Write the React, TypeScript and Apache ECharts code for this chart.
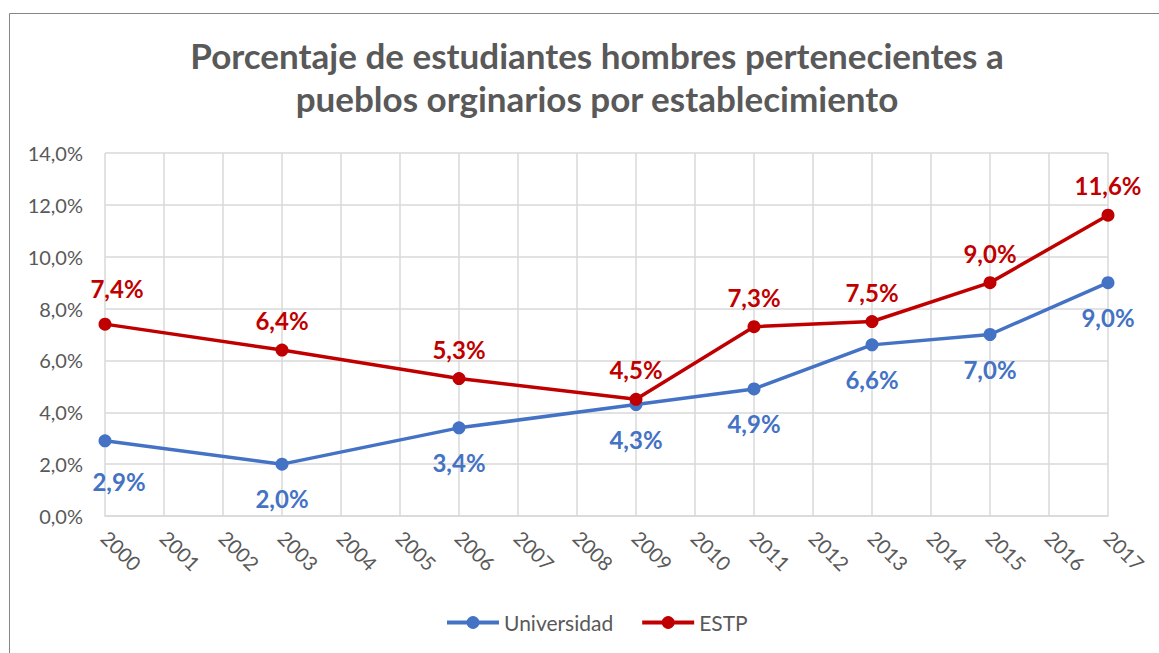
import React, { useEffect, useRef } from "react";
import * as echarts from "echarts";

const years = ["2000","2001","2002","2003","2004","2005","2006","2007","2008","2009","2010","2011","2012","2013","2014","2015","2016","2017"];
const universidad: (number | null)[] = [2.9,null,null,2.0,null,null,3.4,null,null,4.3,null,4.9,null,6.6,null,7.0,null,9.0];
const estp: (number | null)[] = [7.4,null,null,6.4,null,null,5.3,null,null,4.5,null,7.3,null,7.5,null,9.0,null,11.6];
const yTicks = { min: 0, max: 14, interval: 2 };
const title = "Porcentaje de estudiantes hombres pertenecientes a\npueblos orginarios por establecimiento";

const FONT = "Lato, 'Open Sans', sans-serif";
const fmt = (v: number) => v.toFixed(1).replace(".", ",") + "%";

export default function App() {
  const ref = useRef<HTMLDivElement>(null);
  useEffect(() => {
    if (!ref.current) return;
    const chart = echarts.init(ref.current, undefined, { renderer: "svg" });
    const mk = (arr: (number | null)[], firstOffset: [number, number]) =>
      arr.map((v, i) => (i === 0 && v != null ? { value: v, label: { offset: firstOffset } } : v));
    chart.setOption({
      animation: false,
      backgroundColor: "#ffffff",
      textStyle: { fontFamily: FONT },
      title: {
        text: title,
        left: 592,
        textAlign: "center",
        top: 28,
        textStyle: { fontFamily: FONT, fontSize: 35, fontWeight: "bold", color: "#595959", lineHeight: 43 },
      },
      graphic: [
        {
          type: "rect",
          shape: { x: 9.5, y: 13.5, width: 1170, height: 700 },
          style: { fill: "none", stroke: "#868686", lineWidth: 1 },
          silent: true,
        },
      ],
      legend: {
        bottom: 15,
        left: 440,
        itemWidth: 52,
        itemHeight: 16,
        itemGap: 27,
        lineStyle: { width: 4 },
        textStyle: { fontFamily: FONT, fontSize: 21, color: "#595959" },
        data: ["Universidad", "ESTP"],
      },
      grid: { left: 105, right: 51, top: 153, bottom: 137, containLabel: false },
      xAxis: {
        type: "category",
        data: years,
        boundaryGap: false,
        axisLine: { show: true, lineStyle: { color: "#d9d9d9", width: 1.5 } },
        axisTick: { show: false },
        splitLine: { show: true, lineStyle: { color: "#d9d9d9", width: 1.5 } },
        axisLabel: { rotate: -45, fontSize: 20, color: "#595959", margin: 18, interval: 0, fontFamily: FONT },
      },
      yAxis: {
        type: "value",
        min: yTicks.min,
        max: yTicks.max,
        interval: yTicks.interval,
        axisLine: { show: false },
        axisTick: { show: false },
        splitLine: { show: true, lineStyle: { color: "#d9d9d9", width: 1.5 } },
        axisLabel: { fontSize: 20, color: "#595959", margin: 22, formatter: (v: number) => fmt(v), fontFamily: FONT },
      },
      series: [
        {
          name: "Universidad",
          type: "line",
          data: mk(universidad, [14, 6]),
          connectNulls: true,
          color: "#4472C4",
          symbol: "circle",
          symbolSize: 13,
          lineStyle: { width: 3.5, color: "#4472C4" },
          itemStyle: { color: "#4472C4" },
          label: {
            show: true,
            position: "bottom",
            distance: 16,
            fontSize: 24,
            fontWeight: "bold",
            color: "#4472C4",
            fontFamily: FONT,
            formatter: (p: any) => fmt(Array.isArray(p.value) ? p.value[1] : p.value),
          },
        },
        {
          name: "ESTP",
          type: "line",
          data: mk(estp, [12, -6]),
          connectNulls: true,
          color: "#C00000",
          symbol: "circle",
          symbolSize: 13,
          lineStyle: { width: 3.5, color: "#C00000" },
          itemStyle: { color: "#C00000" },
          label: {
            show: true,
            position: "top",
            distance: 11,
            fontSize: 24,
            fontWeight: "bold",
            color: "#C00000",
            fontFamily: FONT,
            formatter: (p: any) => fmt(Array.isArray(p.value) ? p.value[1] : p.value),
          },
        },
      ],
    });
    return () => chart.dispose();
  }, []);
  return <div ref={ref} style={{ position: "fixed", left: 0, top: 0, width: 1159, height: 653 }} />;
}
